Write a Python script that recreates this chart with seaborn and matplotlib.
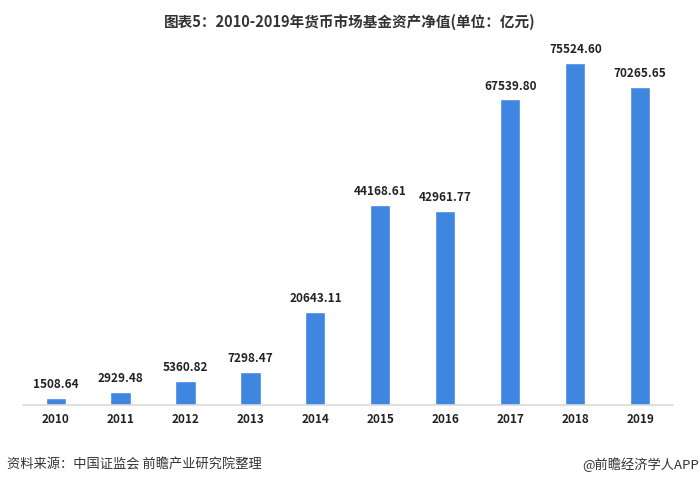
import numpy as np
import pandas as pd
import matplotlib
matplotlib.use("Agg")
import matplotlib.pyplot as plt
import seaborn as sns

years = ['2010', '2011', '2012', '2013', '2014', '2015', '2016', '2017', '2018', '2019']
values = [1508.64, 2929.48, 5360.82, 7298.47, 20643.11, 44168.61, 42961.77, 67539.80, 75524.60, 70265.65]

df = pd.DataFrame({'year': years, 'value': values})

sns.set_style('white')
plt.rcParams['font.family'] = ['Noto Sans CJK SC', 'DejaVu Sans']

fig = plt.figure(figsize=(7, 4.86), dpi=100)
ax = fig.add_axes([0.033, 0.1667, 0.928, 0.745])

sns.barplot(data=df, x='year', y='value', color='#3F86E0', saturation=1, width=0.31, ax=ax)

# value labels on top of bars
for i, v in enumerate(values):
    ax.text(i, v + 1500, f'{v:.2f}', ha='center', va='bottom', fontsize=8.5,
            fontweight='bold', color='#222222')

ax.set_ylim(0, 80000)
ax.set_xlim(-0.5, 9.5)
ax.set_xlabel('')
ax.set_ylabel('')
ax.set_yticks([])
for s in ['top', 'right', 'left']:
    ax.spines[s].set_visible(False)
ax.spines['bottom'].set_color('#D9D9D9')
ax.spines['bottom'].set_linewidth(1.2)
ax.tick_params(axis='x', length=0, pad=6)
for lbl in ax.get_xticklabels():
    lbl.set_fontweight('bold')
    lbl.set_fontsize(8.5)
    lbl.set_color('#222222')

fig.text(0.5, 0.955, '图表5：2010-2019年货币市场基金资产净值(单位：亿元)', ha='center', va='center',
         fontsize=10.5, fontweight='bold', color='#333333')
fig.text(0.01, 0.043, '资料来源：中国证监会 前瞻产业研究院整理', ha='left', va='center',
         fontsize=9.5, color='#333333')
fig.text(0.998, 0.043, '@前瞻经济学人APP', ha='right', va='center',
         fontsize=9.5, color='#333333')

fig.savefig('out.png', dpi=100)
